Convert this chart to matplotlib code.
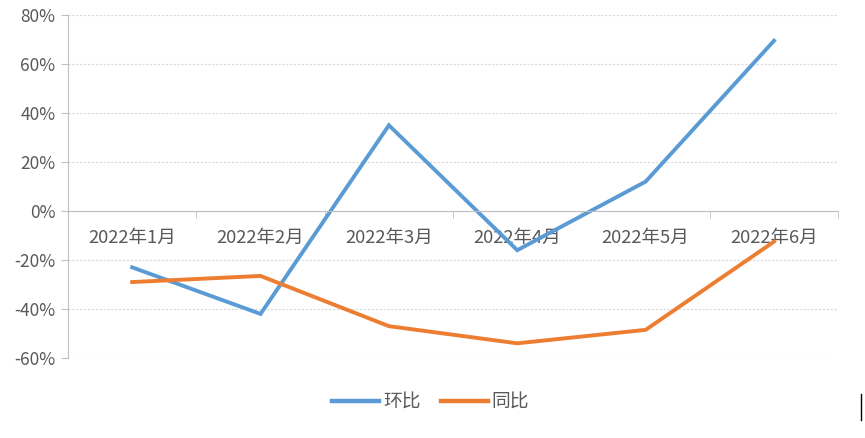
import matplotlib
matplotlib.use("Agg")
import matplotlib.pyplot as plt
from matplotlib.ticker import FuncFormatter, FixedLocator
from matplotlib.lines import Line2D

plt.rcParams['font.family'] = ['Noto Sans CJK SC', 'DejaVu Sans']

categories = ["2022年1月", "2022年2月", "2022年3月", "2022年4月", "2022年5月", "2022年6月"]
mom = [-23, -42, 35, -16, 12, 69.5]      # 环比 (%)
yoy = [-29, -26.5, -47, -54, -48.5, -12.5]  # 同比 (%)
series_names = ["环比", "同比"]
yticks = [-60, -40, -20, 0, 20, 40, 60, 80]

blue = "#5B9BD5"
orange = "#ED7D31"
grey_txt = "#595959"
axis_col = "#BFBFBF"

fig = plt.figure(figsize=(8.65, 4.38), dpi=100)
ax = fig.add_axes([0.0786, 0.1826, 0.8904, 0.7832])

x = list(range(len(categories)))
ax.plot(x, mom, color=blue, lw=2.8, label=series_names[0], solid_joinstyle='miter')
ax.plot(x, yoy, color=orange, lw=2.8, label=series_names[1], solid_joinstyle='miter')

ax.set_xlim(-0.5, len(categories) - 0.5)
ax.set_ylim(-60, 80)
ax.set_yticks(yticks)
ax.yaxis.set_major_formatter(FuncFormatter(lambda v, p: f"{int(v)}%"))
ax.grid(axis='y', color='#D9D9D9', linestyle=(0, (2, 1.5)), lw=0.8)
ax.set_axisbelow(True)

for s in ['top', 'right']:
    ax.spines[s].set_visible(False)
ax.spines['bottom'].set_position(('data', 0))
ax.spines['bottom'].set_color(axis_col)
ax.spines['left'].set_color(axis_col)

ax.set_xticks(x)
ax.set_xticklabels(categories, fontsize=13.3, color=grey_txt)
ax.tick_params(axis='x', which='major', length=0, pad=13)
ax.xaxis.set_minor_locator(FixedLocator([i - 0.5 for i in range(len(categories) + 1)]))
ax.tick_params(axis='x', which='minor', length=5, color=axis_col, direction='out')
ax.tick_params(axis='y', length=5, color=axis_col, labelsize=12.5, labelcolor=grey_txt, pad=4)

leg = fig.legend(loc='center', bbox_to_anchor=(0.498, 0.082), ncol=2, frameon=False,
                 fontsize=13.5, handlelength=2.5, columnspacing=1.1, handletextpad=0.2)
for t in leg.get_texts():
    t.set_color(grey_txt)
for h in leg.get_lines():
    h.set_linewidth(3.2)

fig.add_artist(Line2D([0.9948, 0.9948], [0.04, 0.1], color='black', lw=1, transform=fig.transFigure))

fig.savefig("out.png", dpi=100, facecolor='white')
